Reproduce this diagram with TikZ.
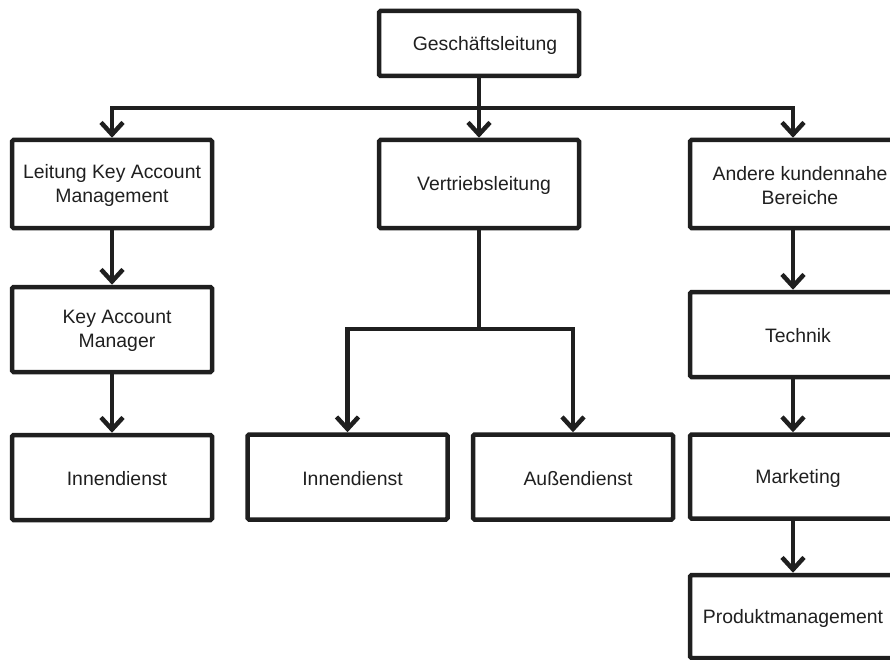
\documentclass[tikz,border=0pt]{standalone}
\usepackage{fontspec}
\setmainfont{Liberation Sans}
\usetikzlibrary{arrows.meta}
\begin{document}
\begin{tikzpicture}[x=1pt,y=-1pt,
  box/.style={draw=black!88, line width=4.5pt, rounded corners=1.5pt,
    minimum width=200pt, inner sep=0pt},
  lbl/.style={font=\fontsize{19.4}{24}\selectfont, align=center,
    text=black!88, inner sep=0pt},
  link/.style={line width=4.5pt, draw=black!88, line join=miter},
  tip/.tip={Straight Barb[length=12pt,width=22pt]},
  arr/.style={link, -tip},
  arrs/.style={link, tip-tip},
]
\useasboundingbox (0,0) rectangle (890,660);

% boxes
\node[box, minimum height=65pt] (gl)   at (479,43.5) {};
\node[box, minimum height=88pt] (lkam) at (112,184) {};
\node[box, minimum height=88pt] (vl)   at (479,184) {};
\node[box, minimum height=88pt, minimum width=206pt] (akb) at (793,184) {};
\node[box, minimum height=85pt] (kam)  at (112,329.5) {};
\node[box, minimum height=85pt] (in1)  at (112,477.5) {};
\node[box, minimum height=85pt] (in2)  at (347.5,477) {};
\node[box, minimum height=85pt] (ad)   at (573,477) {};
\node[box, minimum height=85pt, minimum width=206pt] (tech) at (793,334.5) {};
\node[box, minimum height=84pt, minimum width=206pt] (mkt)  at (793,476.5) {};
\node[box, minimum height=83pt, minimum width=206pt] (pm)   at (793,616.5) {};

% labels (shifts are in page units: negative yshift moves down)
\node[lbl] (tgl)   at ([xshift=6pt,yshift=-1.5pt]gl.center)   {Geschäftsleitung};
\node[lbl] (tlkam) at ([xshift=0pt,yshift=-1.5pt]lkam.center) {Leitung Key Account\\Management};
\node[lbl] (tvl)   at ([xshift=5pt,yshift=-1.5pt]vl.center)   {Vertriebsleitung};
\node[lbl] (takb)  at ([xshift=7pt,yshift=-1.5pt]akb.center)  {Andere kundennahe\\Bereiche};
\node[lbl] (tkam)  at ([xshift=5pt,yshift=-1.5pt]kam.center)  {Key Account\\Manager};
\node[lbl] (tin1)  at ([xshift=5pt,yshift=-1.5pt]in1.center)  {Innendienst};
\node[lbl] (tin2)  at ([xshift=5pt,yshift=-1.5pt]in2.center)  {Innendienst};
\node[lbl] (tad)   at ([xshift=5pt,yshift=-1.5pt]ad.center)   {Außendienst};
\node[lbl] (ttech) at ([xshift=5pt,yshift=-1.5pt]tech.center) {Technik};
\node[lbl] (tmkt)  at ([xshift=5pt,yshift=-1.5pt]mkt.center)  {Marketing};
\node[lbl] (tpm)   at ([xshift=0pt,yshift=-1.5pt]pm.center)   {Produktmanagement};

% connectors
\coordinate (bus) at (479,108);
\coordinate (split) at (479,329);
\draw[arrs] (lkam.north) -- (lkam.north |- bus) -- (akb.north |- bus) -- (akb.north);
\draw[arr] (gl.south) -- (vl.north);
\draw[arr] (lkam.south) -- (kam.north);
\draw[arr] (kam.south) -- (in1.north);
\draw[link] (vl.south) -- (split);
\draw[arrs] (in2.north) -- (in2.north |- split) -- (ad.north |- split) -- (ad.north);
\draw[arr] (akb.south) -- (tech.north);
\draw[arr] (tech.south) -- (mkt.north);
\draw[arr] (mkt.south) -- (pm.north);
\end{tikzpicture}
\end{document}
